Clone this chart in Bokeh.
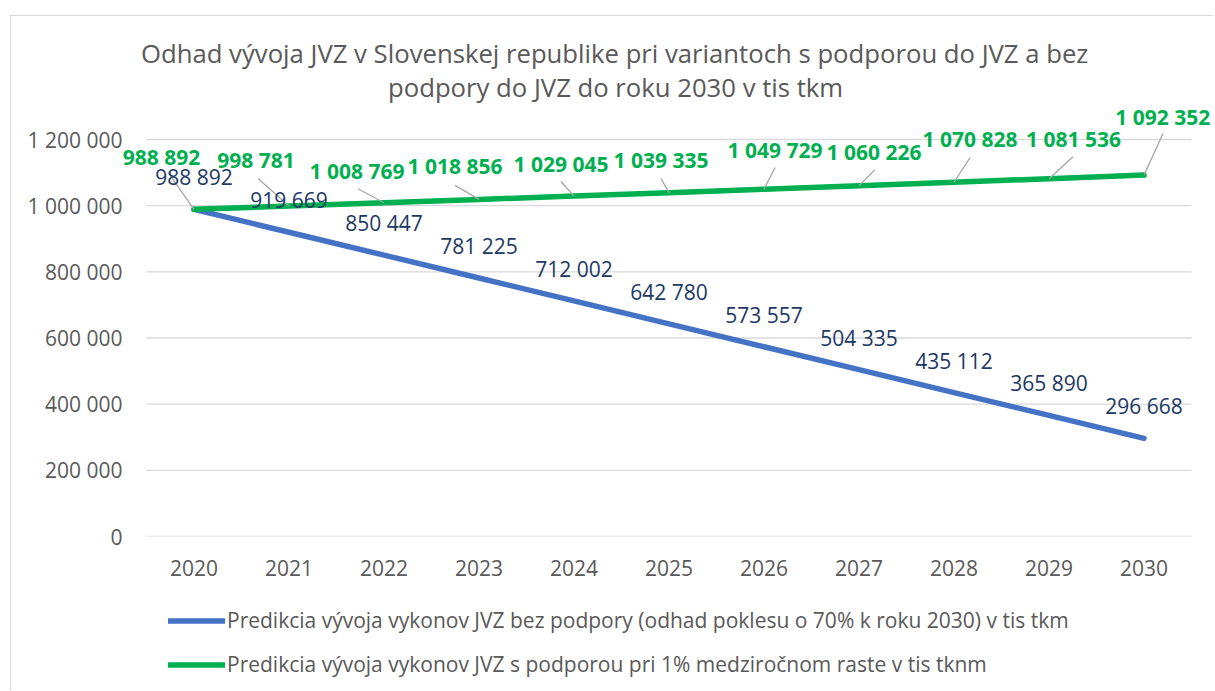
from bokeh.plotting import figure
from bokeh.layouts import column
from bokeh.models import (ColumnDataSource, Range1d, FixedTicker, LabelSet, Title,
                          Legend, LegendItem, Arrow)
from bokeh.core.properties import value
from bokeh.embed import file_html
from bokeh.resources import INLINE

# ---------------- data ----------------
years = ["2020", "2021", "2022", "2023", "2024", "2025", "2026", "2027", "2028", "2029", "2030"]
bez_podpory = [988892, 919669, 850447, 781225, 712002, 642780, 573557, 504335, 435112, 365890, 296668]
s_podporou = [988892, 998781, 1008769, 1018856, 1029045, 1039335, 1049729, 1060226, 1070828, 1081536, 1092352]
y_ticks = [0, 200000, 400000, 600000, 800000, 1000000, 1200000]
y_tick_labels = ["0", "200 000", "400 000", "600 000", "800 000", "1 000 000", "1 200 000"]
title_lines = ["Odhad vývoja JVZ v Slovenskej republike pri variantoch s podporou do JVZ a bez",
               "podpory do JVZ do roku 2030 v tis tkm"]
legend_labels = ["Predikcia vývoja vykonov JVZ bez podpory (odhad poklesu o 70% k roku 2030) v tis tkm",
                 "Predikcia vývoja vykonov JVZ s podporou pri 1% medziročnom raste v tis tknm"]

# ---------------- layout / style (canvas px) ----------------
W = 1202
ML, MT = 111, 88          # frame left / top inside the canvas
MR = 0
FW = W - ML - MR
FRAME_BOTTOM = 520        # canvas y of the zero line
GRID_SPAN_PX = 397        # px between 0 and the top tick
MB = 55                   # space for the category axis
FH = FRAME_BOTTOM - MT
H = FRAME_BOTTOM + MB
LEG_H = 99                # height of the legend strip below the chart
CAT_PX = 95               # px per category
PAD_L, PAD_R = 24, 22     # plot-area padding (px) left of the first / right of the last band
Y_TOP_TICK = 1200000
PX_Y = GRID_SPAN_PX / Y_TOP_TICK
Y_END = FH / PX_Y
BAND_LO, BAND_HI = -0.5, len(years) - 0.5
X_LO, X_HI = BAND_LO - PAD_L / CAT_PX, BAND_HI + PAD_R / CAT_PX
PX_X = CAT_PX
FONT = "Open Sans"
GREY_TXT = "#595959"
GRID_C = "#D9D9D9"
BLUE = "#4472C4"
GREEN = "#00B050"
NAVY = "#203864"
LINE_W = 5.5

# data-label offsets in px (dx right, dy up)
blue_lbl_off = [(0, 32)] * len(years)
green_lbl_off = [(-32.5, 52), (-33, 46.5), (-27, 32), (-24, 33), (-13, 32), (-8, 32.7),
                 (11, 39.7), (15, 34), (16, 43), (24.5, 39.7), (18.7, 58.6)]
green_leader_start = [(-26, 37), (-31, 27.6), (-26, 14), (-24, 14), (-13, 14.6), (-8, 14),
                      (11, 21.7), (16, 16), (16, 24.7), (24, 22), (19, 41.6)]
title_offsets = [18.5, 265.5]   # px from frame left
title_standoffs = [-6, 0]


def fmt(v):
    return f"{v:,}".replace(",", " ")


xs = list(range(len(years)))

p = figure(width=W, height=H, output_backend="svg", toolbar_location=None,
           x_range=Range1d(X_LO, X_HI), y_range=Range1d(0, Y_END),
           min_border_left=ML, min_border_right=MR, min_border_top=MT, min_border_bottom=MB)
p.outline_line_color = None
p.background_fill_color = "white"
p.border_fill_color = "white"

# axes
p.xaxis.ticker = FixedTicker(ticks=xs)
p.xaxis.major_label_overrides = {i: y for i, y in enumerate(years)}
p.yaxis.ticker = FixedTicker(ticks=y_ticks)
p.yaxis.major_label_overrides = dict(zip(y_ticks, y_tick_labels))
for ax in (p.xaxis, p.yaxis):
    ax.major_tick_line_color = None
    ax.minor_tick_line_color = None
    ax.major_tick_out = 0
    ax.major_tick_in = 0
    ax.axis_line_color = None
    ax.major_label_text_font = FONT
    ax.major_label_text_font_size = "21px"
    ax.major_label_text_color = GREY_TXT
p.yaxis.major_label_standoff = 0
p.xaxis.major_label_standoff = 23
p.xgrid.grid_line_color = None
p.ygrid.grid_line_color = None

# horizontal gridlines across the plot area only
p.segment(x0=[BAND_LO] * len(y_ticks), x1=[BAND_HI] * len(y_ticks), y0=y_ticks, y1=y_ticks,
          line_color=GRID_C, line_width=1.3)

# lines
r_blue = p.line(xs, bez_podpory, line_width=LINE_W, line_color=BLUE, line_cap="round", line_join="round")
r_green = p.line(xs, s_podporou, line_width=LINE_W, line_color=GREEN, line_cap="round", line_join="round")

# leader lines (green labels)
lead = ColumnDataSource(dict(
    x0=[x + dx / PX_X for x, (dx, dy) in zip(xs, green_leader_start)],
    y0=[v + dy / PX_Y for v, (dx, dy) in zip(s_podporou, green_leader_start)],
    x1=xs, y1=s_podporou))
p.add_layout(Arrow(end=None, x_start="x0", y_start="y0", x_end="x1", y_end="y1",
                   source=lead, line_color="#A6A6A6", line_width=1.3))

# data labels
src_b = ColumnDataSource(dict(x=xs, y=bez_podpory, t=[fmt(v) for v in bez_podpory],
                              dx=[o[0] for o in blue_lbl_off], dy=[o[1] for o in blue_lbl_off]))
src_g = ColumnDataSource(dict(x=xs, y=s_podporou, t=[fmt(v) for v in s_podporou],
                              dx=[o[0] for o in green_lbl_off], dy=[o[1] for o in green_lbl_off]))
p.add_layout(LabelSet(x="x", y="y", text="t", source=src_b, x_offset="dx", y_offset="dy",
                      text_align="center", text_baseline="middle", text_font=value(FONT),
                      text_font_size=value("21px"), text_color=NAVY))
p.add_layout(LabelSet(x="x", y="y", text="t", source=src_g, x_offset="dx", y_offset="dy",
                      text_align="center", text_baseline="middle", text_font=value(FONT),
                      text_font_size=value("21px"), text_font_style="bold", text_color=GREEN))

# title: two lines (second line added first -> nearest to the plot)
for line, off, so in reversed(list(zip(title_lines, title_offsets, title_standoffs))):
    p.add_layout(Title(text=line, align="left", offset=off, standoff=so,
                       text_font=FONT, text_font_size="25.7px", text_font_style="normal",
                       text_color=GREY_TXT), "above")

# legend strip below the chart
pl = figure(width=W, height=LEG_H, output_backend="svg", toolbar_location=None,
            x_range=Range1d(0, 1), y_range=Range1d(0, 1),
            x_axis_location=None, y_axis_location=None,
            min_border_left=0, min_border_right=0, min_border_top=0, min_border_bottom=0)
pl.outline_line_color = None
pl.xgrid.grid_line_color = None
pl.ygrid.grid_line_color = None
nan = float("nan")
lb = pl.line([nan], [nan], line_width=LINE_W, line_color=BLUE, line_cap="round")
lg = pl.line([nan], [nan], line_width=LINE_W, line_color=GREEN, line_cap="round")
legend = Legend(items=[LegendItem(label=legend_labels[0], renderers=[lb]),
                       LegendItem(label=legend_labels[1], renderers=[lg])],
                location=(46, 11.5), orientation="vertical", glyph_width=57, glyph_height=29,
                label_height=29, label_standoff=2, spacing=15, padding=0, margin=0,
                label_text_font=FONT, label_text_font_size="21px", label_text_color=GREY_TXT,
                background_fill_alpha=0, border_line_alpha=0)
pl.add_layout(legend)

layout = column(p, pl, spacing=0)
layout.styles = {"border-left": "1px solid #D9D9D9", "border-top": "1px solid #D9D9D9",
                 "margin-left": "10px", "margin-top": "15px"}
open("out.html", "w").write(file_html(layout, INLINE))
